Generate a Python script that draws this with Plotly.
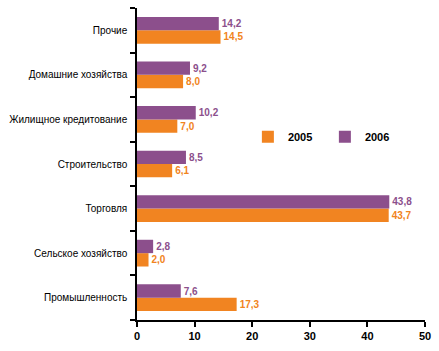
import plotly.graph_objects as go

categories = ["Промышленность", "Сельское хозяйство", "Торговля", "Строительство",
              "Жилищное кредитование", "Домашние хозяйства", "Прочие"]
values_2005 = [17.3, 2.0, 43.7, 6.1, 7.0, 8.0, 14.5]
values_2006 = [7.6, 2.8, 43.8, 8.5, 10.2, 9.2, 14.2]
x_ticks = [0, 10, 20, 30, 40, 50]

ORANGE = "#F18421"
PURPLE = "#8C4F8C"
FONT = "Liberation Sans, Arial, sans-serif"

def fmt(vals):
    return [f"{v:.1f}".replace(".", ",") for v in vals]

fig = go.Figure()
fig.add_trace(go.Bar(
    y=categories, x=values_2005, name="2005", orientation="h",
    marker=dict(color=ORANGE, line=dict(width=0)),
    text=fmt(values_2005), textposition="outside", cliponaxis=False,
    textfont=dict(family=FONT, size=10, color=ORANGE, weight="bold"),
))
fig.add_trace(go.Bar(
    y=categories, x=values_2006, name="2006", orientation="h",
    marker=dict(color=PURPLE, line=dict(width=0)),
    text=fmt(values_2006), textposition="outside", cliponaxis=False,
    textfont=dict(family=FONT, size=10, color=PURPLE, weight="bold"),
))

fig.update_layout(
    width=439, height=351,
    margin=dict(l=137, r=14, t=8, b=31),
    barmode="group", bargap=0.4, bargroupgap=0,
    plot_bgcolor="white", paper_bgcolor="white",
    font=dict(family=FONT, size=10, color="black"),
    showlegend=True,
    legend=dict(orientation="h", x=0.385, y=0.587, xanchor="left", yanchor="middle",
                entrywidth=32, entrywidthmode="pixels", traceorder="normal",
                itemwidth=30,
                font=dict(family=FONT, size=11, color="black", weight="bold"),
                bgcolor="rgba(0,0,0,0)"),
    xaxis=dict(range=[0, 50], tickvals=x_ticks, showgrid=False, zeroline=False,
               showline=True, linecolor="black", linewidth=1.5,
               ticks="outside", ticklen=5, tickcolor="black", tickwidth=1.5,
               automargin=False,
               tickfont=dict(family=FONT, size=11, color="black", weight="bold")),
    yaxis=dict(type="category", categoryorder="array", categoryarray=categories,
               showgrid=False, zeroline=False, automargin=False,
               showline=True, linecolor="black", linewidth=1.5,
               ticks="outside", ticklen=5, tickcolor="black", tickwidth=1.5,
               tickson="boundaries", ticklabelstandoff=6,
               tickfont=dict(family=FONT, size=10, color="black")),
)

fig.write_html("out.html")
